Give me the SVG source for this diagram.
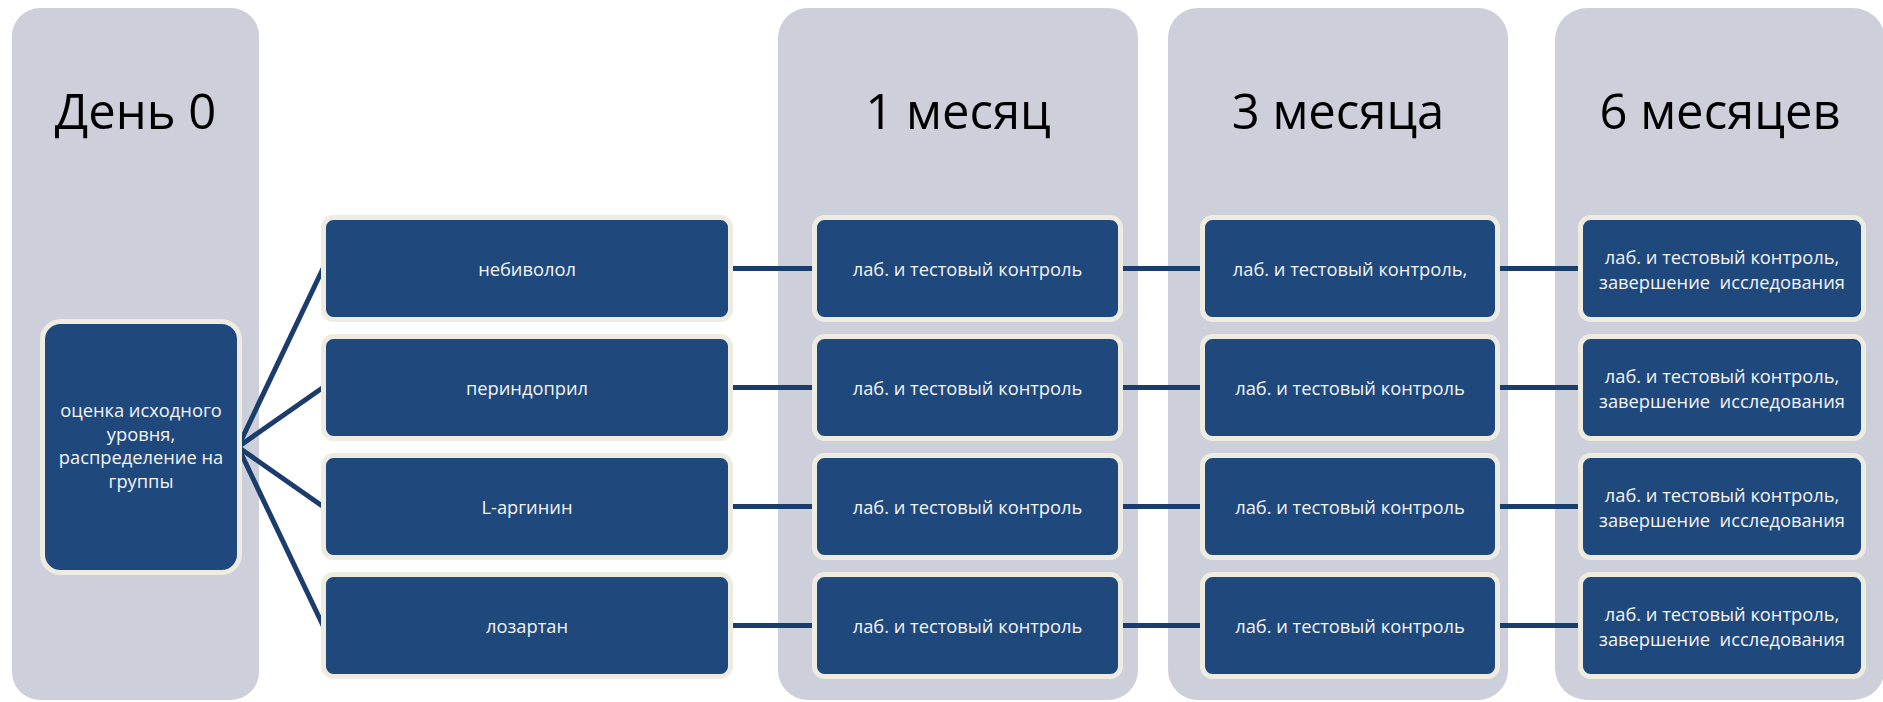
<svg xmlns="http://www.w3.org/2000/svg" width="1883" height="702" viewBox="0 0 1883 702">
<style>
.col{fill:#CDD0DA}
.title{font-family:"Open Sans","Noto Sans",sans-serif;font-size:49px;fill:#000;text-anchor:middle}
.box{fill:#1F497D;stroke:#EEECE1;stroke-width:5}
.lbl{font-family:"Open Sans","Noto Sans",sans-serif;font-size:18.3px;fill:#F4F4F4;text-anchor:middle;white-space:pre}
.con{stroke:#1B3D6B;stroke-width:5;fill:none}
</style>
<rect width="1883" height="702" fill="#FFFFFF"/>
<g id="col-day0"><rect class="col" x="12" y="8" width="247" height="692" rx="28"/><text class="title" x="135.5" y="129">День 0</text></g>
<g id="col-m1"><rect class="col" x="778" y="8" width="360" height="692" rx="30"/><text class="title" x="958" y="129">1 месяц</text></g>
<g id="col-m3"><rect class="col" x="1168" y="8" width="340" height="692" rx="30"/><text class="title" x="1338" y="129">3 месяца</text></g>
<g id="col-m6"><rect class="col" x="1555" y="8" width="330" height="692" rx="32"/><text class="title" x="1720" y="129">6 месяцев</text></g>
<g id="connectors">
<line class="con" x1="238" y1="447" x2="323" y2="268.5"/>
<line class="con" x1="238" y1="447" x2="323" y2="387.5"/>
<line class="con" x1="238" y1="447" x2="323" y2="506.5"/>
<line class="con" x1="238" y1="447" x2="323" y2="625.5"/>
<line class="con" x1="731" y1="268.5" x2="814" y2="268.5"/>
<line class="con" x1="731" y1="387.5" x2="814" y2="387.5"/>
<line class="con" x1="731" y1="506.5" x2="814" y2="506.5"/>
<line class="con" x1="731" y1="625.5" x2="814" y2="625.5"/>
<line class="con" x1="1121" y1="268.5" x2="1202" y2="268.5"/>
<line class="con" x1="1121" y1="387.5" x2="1202" y2="387.5"/>
<line class="con" x1="1121" y1="506.5" x2="1202" y2="506.5"/>
<line class="con" x1="1121" y1="625.5" x2="1202" y2="625.5"/>
<line class="con" x1="1498" y1="268.5" x2="1580" y2="268.5"/>
<line class="con" x1="1498" y1="387.5" x2="1580" y2="387.5"/>
<line class="con" x1="1498" y1="506.5" x2="1580" y2="506.5"/>
<line class="con" x1="1498" y1="625.5" x2="1580" y2="625.5"/>
</g>
<g id="n-baseline"><rect class="box" x="42.5" y="321.5" width="197" height="251" rx="18"/>
<text class="lbl" x="141" y="417">оценка исходного</text>
<text class="lbl" x="141" y="441">уровня,</text>
<text class="lbl" x="141" y="464">распределение на</text>
<text class="lbl" x="141" y="488">группы</text></g>
<g id="n-drug1"><rect class="box" x="323.5" y="217.5" width="407" height="102" rx="10"/><text class="lbl" x="527" y="275.5">небиволол</text></g>
<g id="n-drug2"><rect class="box" x="323.5" y="336.5" width="407" height="102" rx="10"/><text class="lbl" x="527" y="394.5">периндоприл</text></g>
<g id="n-drug3"><rect class="box" x="323.5" y="455.5" width="407" height="102" rx="10"/><text class="lbl" x="527" y="513.5">L-аргинин</text></g>
<g id="n-drug4"><rect class="box" x="323.5" y="574.5" width="407" height="102" rx="10"/><text class="lbl" x="527" y="632.5">лозартан</text></g>
<g id="n-m1-1"><rect class="box" x="814.5" y="217.5" width="306" height="102" rx="10"/><text class="lbl" x="967.5" y="275.5">лаб. и тестовый контроль</text></g>
<g id="n-m1-2"><rect class="box" x="814.5" y="336.5" width="306" height="102" rx="10"/><text class="lbl" x="967.5" y="394.5">лаб. и тестовый контроль</text></g>
<g id="n-m1-3"><rect class="box" x="814.5" y="455.5" width="306" height="102" rx="10"/><text class="lbl" x="967.5" y="513.5">лаб. и тестовый контроль</text></g>
<g id="n-m1-4"><rect class="box" x="814.5" y="574.5" width="306" height="102" rx="10"/><text class="lbl" x="967.5" y="632.5">лаб. и тестовый контроль</text></g>
<g id="n-m3-1"><rect class="box" x="1202.5" y="217.5" width="295" height="102" rx="10"/><text class="lbl" x="1350" y="275.5">лаб. и тестовый контроль,</text></g>
<g id="n-m3-2"><rect class="box" x="1202.5" y="336.5" width="295" height="102" rx="10"/><text class="lbl" x="1350" y="394.5">лаб. и тестовый контроль</text></g>
<g id="n-m3-3"><rect class="box" x="1202.5" y="455.5" width="295" height="102" rx="10"/><text class="lbl" x="1350" y="513.5">лаб. и тестовый контроль</text></g>
<g id="n-m3-4"><rect class="box" x="1202.5" y="574.5" width="295" height="102" rx="10"/><text class="lbl" x="1350" y="632.5">лаб. и тестовый контроль</text></g>
<g id="n-m6-1"><rect class="box" x="1580.5" y="217.5" width="283" height="102" rx="10"/><text class="lbl" x="1722" y="264">лаб. и тестовый контроль,</text><text class="lbl" x="1722" y="289" xml:space="preserve">завершение  исследования</text></g>
<g id="n-m6-2"><rect class="box" x="1580.5" y="336.5" width="283" height="102" rx="10"/><text class="lbl" x="1722" y="383">лаб. и тестовый контроль,</text><text class="lbl" x="1722" y="408" xml:space="preserve">завершение  исследования</text></g>
<g id="n-m6-3"><rect class="box" x="1580.5" y="455.5" width="283" height="102" rx="10"/><text class="lbl" x="1722" y="502">лаб. и тестовый контроль,</text><text class="lbl" x="1722" y="527" xml:space="preserve">завершение  исследования</text></g>
<g id="n-m6-4"><rect class="box" x="1580.5" y="574.5" width="283" height="102" rx="10"/><text class="lbl" x="1722" y="621">лаб. и тестовый контроль,</text><text class="lbl" x="1722" y="646" xml:space="preserve">завершение  исследования</text></g>
</svg>
